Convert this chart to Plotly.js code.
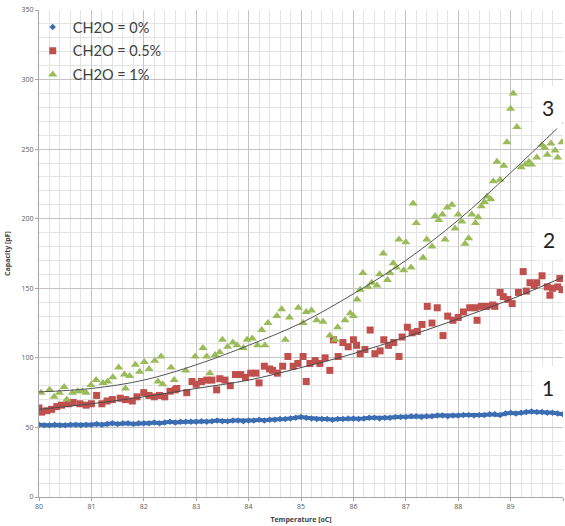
<!DOCTYPE html>
<html>
<head>
<meta charset="utf-8">
<script src="https://cdn.plot.ly/plotly-3.0.1.min.js"></script>
<style>html,body{margin:0;padding:0;background:#fff;}#chart{width:565px;height:526px;}</style>
</head>
<body>
<div id="chart"></div>
<script>
// ---- Data ----
const blueTemps = [80.0,80.1,80.2,80.3,80.4,80.5,80.6,80.7,80.8,80.9,
  81.0,81.1,81.2,81.3,81.4,81.5,81.6,81.7,81.8,81.9,
  82.0,82.1,82.2,82.3,82.4,82.5,82.6,82.7,82.8,82.9,
  83.0,83.1,83.2,83.3,83.4,83.5,83.6,83.7,83.8,83.9,
  84.0,84.1,84.2,84.3,84.4,84.5,84.6,84.7,84.8,84.9,
  85.0,85.1,85.2,85.3,85.4,85.5,85.6,85.7,85.8,85.9,
  86.0,86.1,86.2,86.3,86.4,86.5,86.6,86.7,86.8,86.9,
  87.0,87.1,87.2,87.3,87.4,87.5,87.6,87.7,87.8,87.9,
  88.0,88.1,88.2,88.3,88.4,88.5,88.6,88.7,88.8,88.9,
  89.0,89.1,89.2,89.3,89.4,89.5,89.6,89.7,89.8,89.9,90.0];
const blueValues = [52,51.5,51.5,52,51.5,51.5,52,52,51.5,52,
  52,52.5,52,52.5,53,52.5,53,53,52.5,53,
  53,53,53.5,53,53.5,54,53.5,54,54,54,
  54,54.5,54,54.5,55,54.5,54.5,55,55,54.5,
  55,55,55.5,55,55.5,55.5,56,56,56.5,57,
  57.5,57,56.5,56,56,56,55.5,56,56,56.5,
  56.5,56,56.5,57,57,56.5,57,57,57.5,57.5,
  57.5,58,58,57.5,58,58,58.5,58.5,58,58.5,
  58.5,59,59,58.5,59,59,59.5,59.5,59,60,
  60.5,60,60.5,61,61.5,61,61,60.5,60.5,60,59.5];

const redTemps = [80.0,80.05,80.15,80.24,80.34,80.43,80.56,80.65,80.78,80.9,
  81.0,81.1,81.2,81.3,81.4,81.55,81.65,81.78,81.87,82.0,
  82.1,82.2,82.3,82.4,82.5,82.6,82.63,82.82,82.92,83.0,
  83.1,83.2,83.3,83.39,83.45,83.55,83.65,83.75,83.85,83.94,
  84.04,84.14,84.2,84.3,84.4,84.46,84.55,84.65,84.75,84.85,
  84.94,85.04,85.1,85.17,85.27,85.36,85.46,85.55,85.62,85.71,
  85.8,85.9,86.0,86.06,86.13,86.22,86.32,86.41,86.51,86.58,
  86.67,86.77,86.87,86.93,87.03,87.12,87.22,87.31,87.41,87.5,
  87.6,87.71,87.8,87.9,88.0,88.1,88.22,88.32,88.36,88.44,
  88.54,88.66,88.7,88.8,88.86,88.95,89.03,89.15,89.24,89.3,
  89.37,89.45,89.5,89.6,89.7,89.75,89.8,89.9,89.94,89.98];
const redValues = [64,61,62,63,65,66,67,68,67,66,
  67,73,67,69,70,71,70,69,72,75,
  73,72,73,72,76,77,78,75,83,81,
  83,84,84,77,85,84,80,88,88,86,
  89,89,82,94,92,91,89,94,101,94,
  96,101,83,96,98,96,100,91,113,101,
  111,108,113,109,103,106,120,103,105,113,
  109,111,101,115,122,118,119,124,137,125,
  136,116,130,127,129,133,136,136,127,137,
  137,138,137,147,144,142,139,147,162,148,
  154,152,154,159,151,145,150,151,157,149];

const greenTemps = [80.04,80.2,80.29,80.39,80.48,80.53,80.64,80.74,80.83,80.9,
  80.99,81.09,81.22,81.31,81.41,81.52,81.63,81.65,81.73,81.84,
  81.92,82.01,82.1,82.21,82.27,82.33,82.36,82.52,82.58,82.8,
  82.98,83.13,83.2,83.26,83.36,83.45,83.5,83.6,83.7,83.78,
  83.9,83.97,84.07,84.17,84.25,84.31,84.37,84.54,84.63,84.7,
  84.78,84.95,85.04,85.1,85.2,85.3,85.42,85.55,85.65,85.7,
  85.84,85.94,86.0,86.07,86.13,86.18,86.28,86.35,86.45,86.5,
  86.57,86.65,86.7,86.76,86.82,86.87,86.96,87.0,87.1,87.14,
  87.2,87.33,87.4,87.5,87.56,87.63,87.7,87.75,87.79,87.88,
  87.94,88.0,88.07,88.13,88.2,88.26,88.33,88.38,88.44,88.5,
  88.55,88.62,88.67,88.74,88.8,88.87,88.93,89.0,89.05,89.12,
  89.2,89.28,89.35,89.4,89.5,89.6,89.65,89.7,89.77,89.85,
  89.9,89.98];
const greenValues = [75,77,72,75,79,70,75,76,76,75,
  80.5,84,82,83,86,93,88,78,87,95,
  90,97,92,98,83,101,81,93,84,91,
  101,107,101,89,102,104,113,108,111,109,
  107,113,114,109,120,109,125,130,135,113,
  129,136,125,133,134,127,126,116,113,122,
  127,132,130,142,149,161,151,154,152,160,
  175,156,161,168,165,185,163,183,165,211,
  197,172,185,180,202,199,203,185,208,210,
  193,203,198,182,186,203,197,201,209,212,
  216,214,227,241,228,238,255,279,290,266,
  237,239,241,239,244,253,251,246,254,249,
  244,255];

// trendlines read at whole degrees
const trendTemps = [80,81,82,83,84,85,86,87,88,89,90];
const redTrend = [63,67,72,78,84,93,103,115,128,142,158];
const greenTrend = [75.5,78,84,95,109,125,146,170,199,233,269];

const seriesNames = ['CH2O = 0%','CH2O = 0.5%','CH2O = 1%'];
const curveLabels = ['1','2','3'];
const labelX = [89.72,89.74,89.71];
const labelY = [79,185,280];

const xTicks = [80,81,82,83,84,85,86,87,88,89,90];
const yTicks = [0,50,100,150,200,250,300,350];

// ---- Traces ----
const blue = '#3b6db3', red = '#c0504d', green = '#9bbb59';
const traces = [
  {x: blueTemps, y: blueValues, type:'scatter', mode:'lines', line:{color:blue, width:4},
   showlegend:false, hoverinfo:'skip'},
  {x: blueTemps, y: blueValues, type:'scatter', mode:'markers', name: seriesNames[0], legendgroup:'a',
   marker:{symbol:'diamond', size:5, color:blue}},
  {x: redTemps, y: redValues, type:'scatter', mode:'markers', name: seriesNames[1], legendgroup:'b',
   marker:{symbol:'square', size:7, color:red}},
  {x: greenTemps, y: greenValues, type:'scatter', mode:'markers', name: seriesNames[2], legendgroup:'c',
   marker:{symbol:'triangle-up', size:8, color:green}},
  {x: trendTemps, y: redTrend, type:'scatter', mode:'lines', line:{color:'#4a4a4a', width:1, shape:'spline'},
   showlegend:false, hoverinfo:'skip'},
  {x: trendTemps, y: greenTrend, type:'scatter', mode:'lines', line:{color:'#555555', width:1, shape:'spline'},
   showlegend:false, hoverinfo:'skip'}
];

const annotations = curveLabels.map((t,i) => ({
  x: labelX[i], y: labelY[i], xref:'x', yref:'y', text: t, showarrow:false,
  font:{family:'Lato, "Open Sans", sans-serif', size:21, color:'#222222'},
  bgcolor:'#ffffff', borderpad:8
}));

const tickFont = {family:'"Open Sans", Arial, sans-serif', size:7, color:'#595959'};
const layout = {
  width:565, height:526,
  margin:{l:39, r:2, t:10, b:29, pad:0},
  paper_bgcolor:'#ffffff', plot_bgcolor:'#ffffff',
  showlegend:true,
  legend:{x:-0.012, y:0.998, xanchor:'left', yanchor:'top', bgcolor:'rgba(0,0,0,0)',
    font:{family:'Lato, "Open Sans", sans-serif', size:14.5, color:'#404040'},
    traceorder:'grouped', itemwidth:30, tracegroupgap:2},
  xaxis:{range:[80,90], tickvals:xTicks, ticktext:xTicks.map(String), tickfont:tickFont,
    showgrid:true, gridcolor:'#c4c4c4', gridwidth:1,
    minor:{dtick:0.2, showgrid:true, gridcolor:'#e3e3e3', gridwidth:1},
    zeroline:false, showline:true, linecolor:'#a6a6a6', linewidth:1,
    ticks:'outside', ticklen:3, tickcolor:'#a6a6a6', automargin:false,
    title:{text:'<b>Temperature [oC]</b>', font:{family:'"Open Sans", Arial, sans-serif', size:7, color:'#404040'}, standoff:6}},
  yaxis:{range:[0,350], tickvals:yTicks, ticktext:yTicks.map(String), tickfont:tickFont,
    showgrid:true, gridcolor:'#c4c4c4', gridwidth:1,
    minor:{dtick:10, showgrid:true, gridcolor:'#e3e3e3', gridwidth:1},
    zeroline:false, showline:true, linecolor:'#a6a6a6', linewidth:1,
    ticks:'outside', ticklen:3, tickcolor:'#a6a6a6', automargin:false,
    title:{text:'<b>Capacity [pF]</b>', font:{family:'"Open Sans", Arial, sans-serif', size:7, color:'#404040'}, standoff:10}},
  annotations: annotations
};

Plotly.newPlot('chart', traces, layout, {displayModeBar:false, staticPlot:true});
</script>
</body>
</html>
